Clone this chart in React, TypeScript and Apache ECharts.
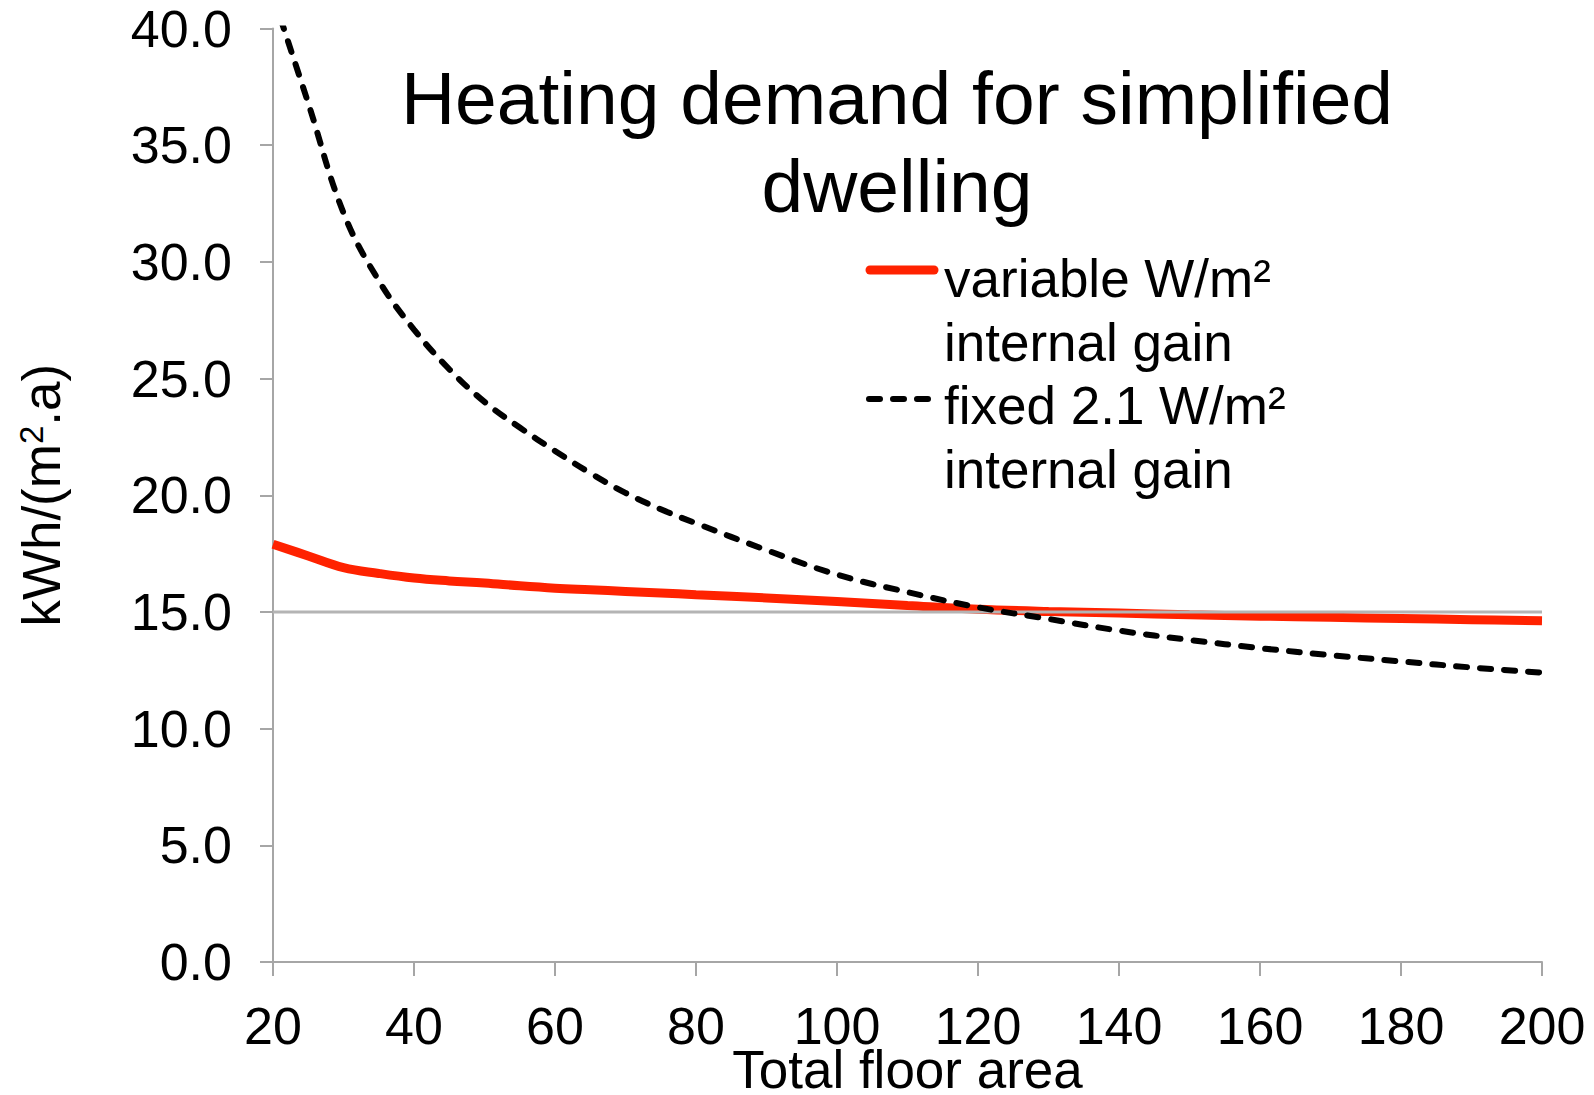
import React, { useEffect, useRef } from "react";
import * as echarts from "echarts";

// Total floor area (m²)
const floorArea = [20, 25, 30, 35, 40, 45, 50, 55, 60, 65, 70, 75, 80, 90, 100, 110, 120, 130, 140, 150, 160, 170, 180, 190, 200];
// variable W/m² internal gain
const variableGain = [17.9, 17.4, 16.9, 16.65, 16.45, 16.33, 16.24, 16.12, 16.02, 15.95, 15.88, 15.81, 15.74, 15.6, 15.45, 15.28, 15.12, 15.02, 14.95, 14.88, 14.82, 14.77, 14.72, 14.67, 14.62];
// fixed 2.1 W/m² internal gain
const fixedGain = [41.4, 36.8, 32.1, 29.2, 27.1, 25.4, 24.0, 22.9, 21.9, 20.95, 20.1, 19.4, 18.8, 17.65, 16.6, 15.85, 15.2, 14.7, 14.2, 13.8, 13.45, 13.15, 12.88, 12.62, 12.4];
// reference level
const thresholdValue = 15;

const legendNames = ["variable W/m²\ninternal gain", "fixed 2.1 W/m²\ninternal gain"];
const titleText = "Heating demand for simplified\ndwelling";

export default function App() {
  const ref = useRef<HTMLDivElement>(null);

  useEffect(() => {
    if (!ref.current) return;
    const chart = echarts.init(ref.current, null, { renderer: "svg" });
    const font = '"Liberation Sans", Arial, Helvetica, sans-serif';
    const axisColor = "#a6a6a6";
    const red = "#ff2200";

    chart.setOption({
      animation: false,
      backgroundColor: "#ffffff",
      title: {
        text: titleText,
        left: 897,
        top: 54,
        padding: 0,
        textAlign: "center",
        textStyle: {
          fontFamily: font,
          fontSize: 75,
          fontWeight: "normal",
          color: "#000",
          lineHeight: 88,
        },
      },
      grid: {
        left: 273,
        right: 52,
        top: 28.5,
        bottom: 133,
        containLabel: false,
        outerBoundsMode: "none",
      },
      xAxis: {
        type: "value",
        min: 20,
        max: 200,
        interval: 20,
        axisLine: { show: true, onZero: false, lineStyle: { color: axisColor, width: 2 } },
        axisTick: { show: true, length: 14, lineStyle: { color: axisColor, width: 2 } },
        axisLabel: { margin: 44, fontSize: 52, lineHeight: 40, color: "#000", fontFamily: font },
        splitLine: { show: false },
        name: "Total floor area",
        nameLocation: "middle",
        nameGap: 89.5,
        nameMoveOverlap: false,
        nameTextStyle: { fontSize: 53, lineHeight: 36, color: "#000", fontFamily: font },
      },
      yAxis: {
        type: "value",
        min: 0,
        max: 40,
        interval: 5,
        axisLine: { show: true, onZero: false, lineStyle: { color: axisColor, width: 2 } },
        axisTick: { show: true, length: 13, lineStyle: { color: axisColor, width: 2 } },
        axisLabel: {
          margin: 41,
          fontSize: 52,
          color: "#000",
          fontFamily: font,
          formatter: (v: number) => v.toFixed(1),
        },
        splitLine: { show: false },
        name: "{a|kWh/(m}{s|2}{a|.a)}",
        nameLocation: "middle",
        nameRotate: 90,
        nameGap: 205,
        nameMoveOverlap: false,
        nameTextStyle: {
          color: "#000",
          fontFamily: font,
          fontSize: 53,
          rich: {
            a: { fontSize: 53, fontFamily: font, color: "#000" },
            s: { fontSize: 33, fontFamily: font, color: "#000", verticalAlign: "top" },
          },
        },
      },
      series: [
        {
          name: legendNames[0],
          type: "line",
          data: floorArea.map((x, i) => [x, variableGain[i]]),
          smooth: 0.4,
          showSymbol: false,
          lineStyle: { color: red, width: 9 },
          z: 2,
        },
        {
          name: "15",
          type: "line",
          data: [
            [floorArea[0], thresholdValue],
            [floorArea[floorArea.length - 1], thresholdValue],
          ],
          showSymbol: false,
          lineStyle: { color: "#b4b4b4", width: 3 },
          z: 3,
        },
        {
          name: legendNames[1],
          type: "line",
          data: floorArea.map((x, i) => [x, fixedGain[i]]),
          smooth: 0.4,
          showSymbol: false,
          clip: true,
          lineStyle: { color: "#000", width: 6, type: [11, 13], cap: "round" },
          z: 4,
        },
      ],
      graphic: [
        {
          type: "line",
          shape: { x1: 870, y1: 270, x2: 934, y2: 270 },
          style: { stroke: red, lineWidth: 9, lineCap: "round" },
        },
        {
          type: "line",
          shape: { x1: 869, y1: 399, x2: 928, y2: 399 },
          style: { stroke: "#000", lineWidth: 6, lineDash: [11, 13], lineCap: "round" },
        },
        {
          type: "text",
          x: 944,
          y: 246,
          style: {
            text: legendNames[0],
            font: `53px ${font}`,
            lineHeight: 64,
            fill: "#000",
            verticalAlign: "top",
            align: "left",
          },
        },
        {
          type: "text",
          x: 944,
          y: 373,
          style: {
            text: legendNames[1],
            font: `53px ${font}`,
            lineHeight: 64,
            fill: "#000",
            verticalAlign: "top",
            align: "left",
          },
        },
      ],
    });

    return () => chart.dispose();
  }, []);

  return (
    <div
      ref={ref}
      style={{ position: "fixed", left: 0, top: 0, width: 1594, height: 1095 }}
    />
  );
}
